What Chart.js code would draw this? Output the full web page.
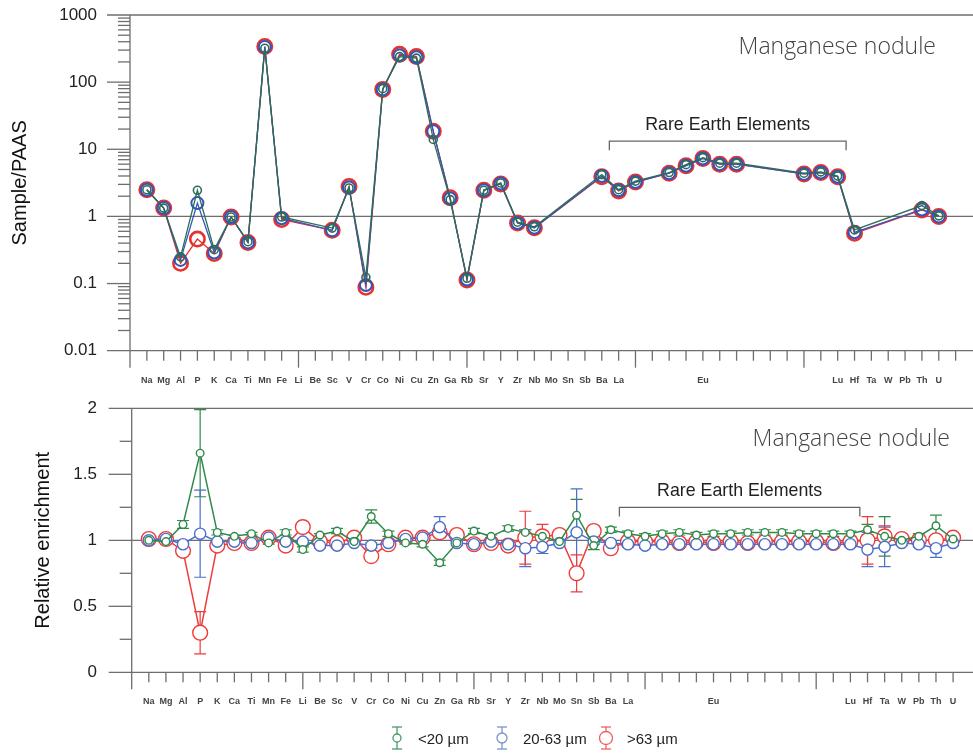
<!DOCTYPE html>
<html>
<head>
<meta charset="utf-8">
<script src="https://cdn.jsdelivr.net/npm/chart.js@4.4.1/dist/chart.umd.min.js"></script>
<style>
    html, body { margin: 0; padding: 0; background: #fff; }
    #wrap { position: relative; width: 973px; height: 754px; overflow: hidden; }
    #topChart { position: absolute; left: 0; top: 0; }
    #bottomChart { position: absolute; left: 0; top: 395px; }
    #legend { position: absolute; left: 0; top: 726px; width: 973px; height: 24px;
              font: 15px 'Liberation Sans', Arial, sans-serif; color: #222; }
    .item { position: absolute; top: 0; height: 24px; display: flex; align-items: center; }
</style>
</head>
<body>
<div id="wrap">
    <canvas id="topChart" width="973" height="395"></canvas>
    <canvas id="bottomChart" width="973" height="359"></canvas>
    <div id="legend"></div>
</div>
<script>
// Elements on the x axis (position = index + 1)
const elements = ['Na','Mg','Al','P','K','Ca','Ti','Mn','Fe','Li','Be','Sc','V','Cr','Co','Ni','Cu','Zn','Ga','Rb',
    'Sr','Y','Zr','Nb','Mo','Sn','Sb','Ba','La','Ce','Pr','Nd','Sm','Eu','Gd','Tb','Dy','Ho','Er','Tm','Yb','Lu',
    'Hf','Ta','W','Pb','Th','U'];
// Only some REE are labelled
const tickLabels = ['Na','Mg','Al','P','K','Ca','Ti','Mn','Fe','Li','Be','Sc','V','Cr','Co','Ni','Cu','Zn','Ga','Rb',
    'Sr','Y','Zr','Nb','Mo','Sn','Sb','Ba','La','','','','','Eu','','','','','','','','Lu',
    'Hf','Ta','W','Pb','Th','U'];

const seriesNames = ['<20 µm', '20-63 µm', '>63 µm'];

// Sample/PAAS (top panel, log scale)
const paasFine = [2.5,1.33,0.25,2.45,0.32,0.98,0.42,320,0.98,null,null,0.67,2.65,0.124,80,240,228,14,1.78,0.12,
    2.45,3.15,0.82,0.7,null,null,null,4.2,2.5,3.35,null,4.5,5.9,7.5,6.2,6.2,null,null,null,4.4,4.6,4.0,
    0.63,null,null,null,1.45,1.02];
const paasMid = [2.5,1.33,0.225,1.58,0.29,0.98,0.41,335,0.94,null,null,0.62,2.7,0.095,78,250,235,18.5,1.85,0.115,
    2.45,3.1,0.8,0.68,null,null,null,4.0,2.45,3.25,null,4.4,5.7,7.3,6.0,6.0,null,null,null,4.3,4.5,3.9,
    0.58,null,null,null,1.27,1.0];
const paasCoarse = [2.5,1.33,0.2,0.46,0.28,0.98,0.41,340,0.9,null,null,0.62,2.8,0.088,78,260,240,18.5,1.9,0.113,
    2.45,3.05,0.8,0.68,null,null,null,3.9,2.4,3.25,null,4.4,5.7,7.3,6.0,6.0,null,null,null,4.3,4.5,3.9,
    0.56,null,null,null,1.25,1.0];

// Relative enrichment (bottom panel) and error bars
const relFine = [1.0,0.99,1.12,1.66,1.06,1.03,1.05,0.98,1.06,0.93,1.04,1.07,0.99,1.18,1.05,0.98,0.97,0.83,0.98,1.07,
    1.03,1.09,1.06,1.03,0.99,1.19,0.96,1.08,1.05,1.03,1.05,1.06,1.04,1.05,1.05,1.06,1.06,1.06,1.05,1.05,1.05,1.05,
    1.08,1.03,1.0,1.03,1.11,1.01];
const relMid = [1.0,1.01,0.97,1.05,0.99,0.99,0.98,1.02,0.99,0.99,0.96,0.96,0.98,0.96,0.98,1.01,1.02,1.1,0.98,0.97,
    0.99,0.97,0.94,0.95,0.98,1.06,0.99,0.98,0.97,0.96,0.97,0.97,0.97,0.97,0.97,0.97,0.97,0.97,0.97,0.97,0.97,0.97,
    0.93,0.95,0.98,0.97,0.94,0.98];
const relCoarse = [1.01,1.01,0.92,0.3,0.96,0.98,0.98,1.02,0.96,1.1,0.99,0.98,1.02,0.88,0.97,1.02,1.02,1.06,1.04,0.97,
    0.98,0.96,1.02,1.03,1.04,0.75,1.07,0.94,0.99,0.99,0.99,0.98,0.99,0.98,0.99,0.98,0.99,0.99,0.99,0.99,0.98,0.99,
    1.0,1.03,1.01,1.0,1.0,1.02];
const errFine = [0.01,0.01,0.03,0.33,0.02,0.01,0.01,0.01,0.02,0.02,0.01,0.02,0.01,0.05,0.02,0.01,0.02,0.02,0.01,0.02,
    0.01,0.02,0.02,0.02,0.01,0.12,0.03,0.02,0.02,0.02,0.02,0.02,0.02,0.02,0.02,0.02,0.02,0.02,0.02,0.02,0.02,0.02,
    0.04,0.15,0.02,0.02,0.08,0.02];
const errMid = [0.01,0.01,0.02,0.33,0.01,0.01,0.01,0.01,0.01,0.02,0.02,0.01,0.01,0.02,0.01,0.01,0.01,0.08,0.02,0.02,
    0.01,0.01,0.14,0.05,0.02,0.33,0.02,0.01,0.02,0.02,0.02,0.02,0.02,0.02,0.02,0.02,0.02,0.02,0.02,0.02,0.02,0.02,
    0.13,0.15,0.02,0.02,0.07,0.02];
const errCoarse = [0.01,0.01,0.02,0.16,0.01,0.02,0.01,0.01,0.02,0.03,0.01,0.01,0.01,0.03,0.02,0.01,0.01,0.02,0.02,0.02,
    0.01,0.02,0.2,0.09,0.02,0.14,0.02,0.02,0.02,0.02,0.02,0.02,0.02,0.02,0.02,0.02,0.02,0.02,0.02,0.02,0.02,0.02,
    0.18,0.08,0.02,0.02,0.02,0.02];

const topColors = ['#2b6e55', '#3355bb', '#e8322e'];
const bottomColors = ['#2f8a4a', '#4a6fcc', '#ef3b3b'];
const legendColors = ['#4a9a68', '#7a93d0', '#f06060'];

const toPoints = arr => arr.map((v, i) => ({ x: i + 1, y: v }));

// Axes, ticks, frame lines
const framePlugin = {
    id: 'frame',
    beforeDatasetsDraw(chart, args, opts) {
        const { ctx, chartArea: a, scales: { x, y } } = chart;
        const line = (x1, y1, x2, y2) => { ctx.beginPath(); ctx.moveTo(x1, y1); ctx.lineTo(x2, y2); ctx.stroke(); };
        ctx.save();
        ctx.strokeStyle = '#6e6e6e';
        ctx.lineWidth = 1.3;
        const ax = a.left;
        opts.hLines.forEach(v => { const py = y.getPixelForValue(v); line(ax - 23, py, chart.width, py); });
        line(ax, a.top, ax, a.bottom + 17);
        opts.majorY.forEach(v => { const py = y.getPixelForValue(v); line(ax - 23, py, ax, py); });
        opts.minorY.forEach(v => { const py = y.getPixelForValue(v); line(ax - 12, py, ax, py); });
        for (let i = 1; i <= Math.floor(x.max); i++) {
            const px = x.getPixelForValue(i);
            line(px, a.bottom, px, a.bottom + (i % 10 === 0 ? 17 : 10));
        }
        ctx.restore();
    }
};

// Vertical error bars with caps
const errorBarPlugin = {
    id: 'errorBars',
    beforeDatasetsDraw(chart) {
        const { ctx, scales: { y } } = chart;
        ctx.save();
        chart.data.datasets.forEach((ds, i) => {
            if (!ds.errors) return;
            const meta = chart.getDatasetMeta(i);
            ctx.strokeStyle = ds.borderColor;
            ctx.lineWidth = 1.2;
            ds.data.forEach((p, j) => {
                const e = ds.errors[j];
                if (p.y == null || !e) return;
                const px = meta.data[j].x;
                const y1 = y.getPixelForValue(p.y + e), y2 = y.getPixelForValue(p.y - e);
                ctx.beginPath();
                ctx.moveTo(px, y1); ctx.lineTo(px, y2);
                ctx.moveTo(px - 6, y1); ctx.lineTo(px + 6, y1);
                ctx.moveTo(px - 6, y2); ctx.lineTo(px + 6, y2);
                ctx.stroke();
            });
        });
        ctx.restore();
    }
};

// Panel label and REE bracket
const notesPlugin = {
    id: 'notes',
    afterDatasetsDraw(chart, args, opts) {
        const { ctx, scales: { x, y } } = chart;
        ctx.save();
        ctx.fillStyle = '#444';
        ctx.font = '300 23px "Open Sans"';
        ctx.textAlign = 'right';
        ctx.textBaseline = 'middle';
        ctx.fillText('Manganese nodule', opts.titleX, opts.titleY);

        const x1 = x.getPixelForValue(opts.bracket[0]), x2 = x.getPixelForValue(opts.bracket[1]);
        const yl = y.getPixelForValue(opts.bracketY), ye = yl + 9;
        ctx.strokeStyle = '#666';
        ctx.lineWidth = 1.3;
        ctx.beginPath();
        ctx.moveTo(x1, ye); ctx.lineTo(x1, yl); ctx.lineTo(x2, yl); ctx.lineTo(x2, ye);
        ctx.stroke();
        ctx.fillStyle = '#222';
        ctx.font = '17.8px "Liberation Sans"';
        ctx.textAlign = 'center';
        ctx.textBaseline = 'bottom';
        ctx.fillText('Rare Earth Elements', (x1 + x2) / 2, yl - 7);
        ctx.restore();
    }
};

function xAxis(maxX, height) {
    return {
        type: 'linear', min: 0, max: maxX,
        grid: { display: false, drawTicks: false }, border: { display: false },
        afterBuildTicks: s => { s.ticks = elements.map((e, i) => ({ value: i + 1 })); },
        afterFit: s => { s.height = height; s.paddingLeft = 0; s.paddingRight = 0; },
        ticks: {
            autoSkip: false, maxRotation: 0, minRotation: 0, padding: 24,
            color: '#444', font: { family: 'Liberation Sans', size: 9, weight: 'bold' },
            callback: v => tickLabels[v - 1] || ''
        }
    };
}

function yFit(width) {
    return s => { s.width = width; s.paddingTop = 0; s.paddingBottom = 0; };
}

const topDatasets = [paasFine, paasMid, paasCoarse].map((arr, k) => ({
    label: seriesNames[k],
    data: toPoints(arr),
    borderColor: topColors[k],
    backgroundColor: 'rgba(0,0,0,0)',
    borderWidth: 1.3,
    pointRadius: [4, 6, 7.2][k],
    pointBorderWidth: [1.6, 2, 2.6][k],
    pointBackgroundColor: 'rgba(0,0,0,0)',
    pointBorderColor: topColors[k],
    spanGaps: true,
    tension: 0
}));

const minorLog = [];
[0.01, 0.1, 1, 10, 100].forEach(d => { for (let m = 2; m <= 9; m++) minorLog.push(d * m); });

new Chart(document.getElementById('topChart'), {
    type: 'line',
    data: { datasets: topDatasets },
    plugins: [framePlugin, notesPlugin],
    options: {
        responsive: false, animation: false, devicePixelRatio: 1,
        layout: { padding: { top: 15, right: 0, left: 0, bottom: 0 } },
        plugins: {
            legend: { display: false }, tooltip: { enabled: false },
            frame: { hLines: [1000, 1, 0.01], majorY: [100, 10, 0.1], minorY: minorLog },
            notes: { titleX: 936, titleY: 47, bracket: [28.45, 42.5], bracketY: 13.2 }
        },
        scales: {
            x: xAxis(49.45, 44.3),
            y: {
                type: 'logarithmic', min: 0.01, max: 1000,
                grid: { display: false, drawTicks: false }, border: { display: false },
                afterBuildTicks: s => { s.ticks = [0.01, 0.1, 1, 10, 100, 1000].map(v => ({ value: v })); },
                afterFit: yFit(130),
                ticks: { padding: 33, color: '#222', font: { family: 'Liberation Sans', size: 17 },
                         callback: v => String(v) },
                title: { display: true, text: 'Sample/PAAS', color: '#111',
                         font: { family: 'Liberation Sans', size: 20 }, padding: { top: 8 } }
            }
        }
    }
});

const bottomDatasets = [[relFine, errFine], [relMid, errMid], [relCoarse, errCoarse]].map(([arr, err], k) => ({
    label: seriesNames[k],
    data: toPoints(arr),
    errors: err,
    borderColor: bottomColors[k],
    backgroundColor: '#fff',
    borderWidth: 1.5,
    pointRadius: [3.8, 5.6, 7.4][k],
    pointBorderWidth: 1.4,
    pointBackgroundColor: '#fff',
    pointBorderColor: bottomColors[k],
    tension: 0
}));

new Chart(document.getElementById('bottomChart'), {
    type: 'line',
    data: { datasets: bottomDatasets },
    plugins: [framePlugin, errorBarPlugin, notesPlugin],
    options: {
        responsive: false, animation: false, devicePixelRatio: 1,
        layout: { padding: { top: 13.3, right: 0, left: 0, bottom: 0 } },
        plugins: {
            legend: { display: false }, tooltip: { enabled: false },
            frame: { hLines: [2, 1, 0], majorY: [1.5, 0.5], minorY: [0.25, 0.75, 1.25, 1.75] },
            notes: { titleX: 950, titleY: 44, bracket: [28.5, 42.55], bracketY: 1.249 }
        },
        scales: {
            x: xAxis(48.65, 81.7),
            y: {
                type: 'linear', min: 0, max: 2,
                grid: { display: false, drawTicks: false }, border: { display: false },
                afterBuildTicks: s => { s.ticks = [0, 0.5, 1, 1.5, 2].map(v => ({ value: v })); },
                afterFit: yFit(131.7),
                ticks: { padding: 34.7, color: '#222', font: { family: 'Liberation Sans', size: 17 },
                         callback: v => String(v) },
                title: { display: true, text: 'Relative enrichment', color: '#111',
                         font: { family: 'Liberation Sans', size: 20 }, padding: { top: 31 } }
            }
        }
    }
});

// Legend with error bar symbols
const legendPos = [[390, 418], [495, 523], [599, 627]];
const legendRadius = [4, 5, 6.5];
const legend = document.getElementById('legend');
seriesNames.forEach((name, k) => {
    const c = legendColors[k], r = legendRadius[k];
    const svg = `<svg width="14" height="24" viewBox="0 0 14 24">
        <g stroke="${c}" stroke-width="1.3" fill="#fff">
        <line x1="7" y1="1" x2="7" y2="23"/><line x1="2" y1="1" x2="12" y2="1"/><line x1="2" y1="23" x2="12" y2="23"/>
        <circle cx="7" cy="12" r="${r}"/></g></svg>`;
    const item = document.createElement('div');
    item.className = 'item';
    item.style.left = legendPos[k][0] + 'px';
    item.innerHTML = svg;
    const txt = document.createElement('span');
    txt.style.position = 'absolute';
    txt.style.left = (legendPos[k][1] - legendPos[k][0]) + 'px';
    txt.style.whiteSpace = 'nowrap';
    txt.textContent = name;
    item.appendChild(txt);
    legend.appendChild(item);
});
</script>
</body>
</html>
